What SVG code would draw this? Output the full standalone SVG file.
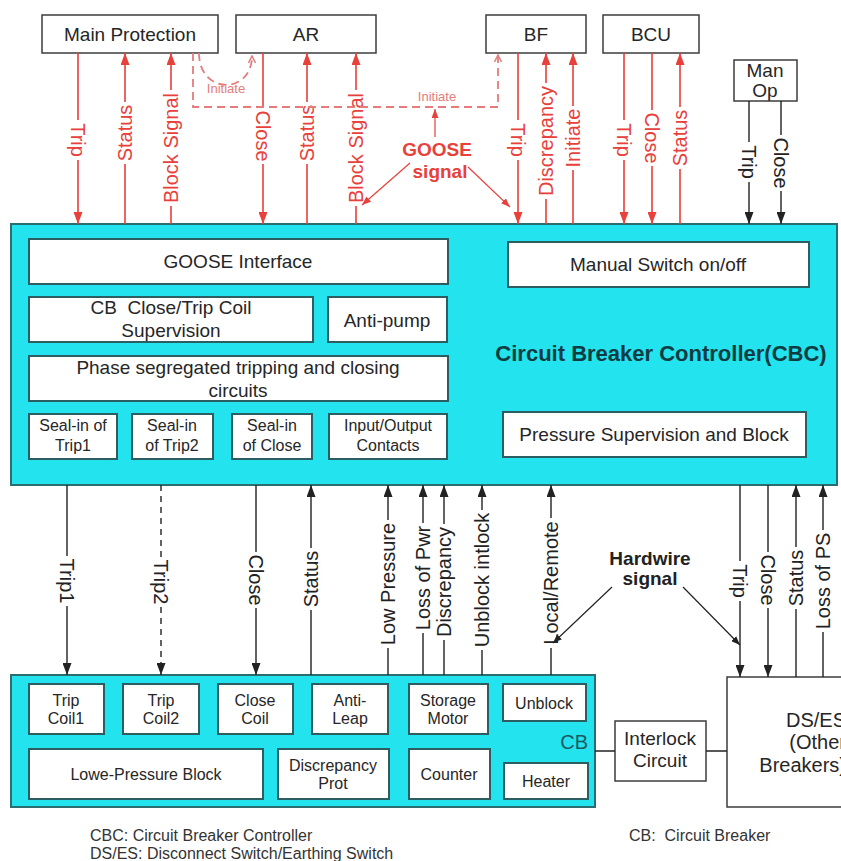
<svg xmlns="http://www.w3.org/2000/svg" width="841" height="861" viewBox="0 0 841 861">
<style>
text{font-family:"Liberation Sans",Arial,sans-serif;fill:#262626}
.c{text-anchor:middle;dominant-baseline:central}
.f19{font-size:19px}
.f16{font-size:16px}
.box{fill:#fff;stroke:#3c3c3c;stroke-width:1.5}
.cbc{fill:#22E3EE;stroke:#2a6e72;stroke-width:2}
.ibox{fill:#fff;stroke:#2b5d61;stroke-width:2}
.red{stroke:#E8403A;stroke-width:1.6;fill:none}
.blk{stroke:#222;stroke-width:1.4;fill:none}
.thr{stroke:#E8403A;stroke-width:1.2;fill:none}
.thb{stroke:#222;stroke-width:1.2;fill:none}
.dash{stroke:#E47C7C;stroke-width:1.8;stroke-dasharray:8 5;fill:none}
.rl{fill:#E8403A;font-size:20px}
.bl{fill:#222;font-size:20px}
.ini{fill:#E47C7C;font-size:13px}
.leg{font-size:16px;fill:#333}
</style>
<defs>
<marker id="ar" viewBox="0 0 12 9" refX="12" refY="4.5" markerWidth="12" markerHeight="9" markerUnits="userSpaceOnUse" orient="auto"><path d="M0,0 L12,4.5 L0,9 z" fill="#E8403A"/></marker>
<marker id="ab" viewBox="0 0 12 9" refX="12" refY="4.5" markerWidth="12" markerHeight="9" markerUnits="userSpaceOnUse" orient="auto"><path d="M0,0 L12,4.5 L0,9 z" fill="#222"/></marker>
<marker id="sr" viewBox="0 0 9 7" refX="9" refY="3.5" markerWidth="9" markerHeight="7" markerUnits="userSpaceOnUse" orient="auto"><path d="M0,0 L9,3.5 L0,7 z" fill="#E8403A"/></marker>
<marker id="sb" viewBox="0 0 9 7" refX="9" refY="3.5" markerWidth="9" markerHeight="7" markerUnits="userSpaceOnUse" orient="auto"><path d="M0,0 L9,3.5 L0,7 z" fill="#222"/></marker>
<marker id="od" viewBox="0 0 9 9" refX="8" refY="4.5" markerWidth="9" markerHeight="9" markerUnits="userSpaceOnUse" orient="auto"><path d="M1,1 L8,4.5 L1,8" fill="none" stroke="#E47C7C" stroke-width="1.5"/></marker>
</defs>
<rect width="841" height="861" fill="#fff"/>

<g id="main-protection"><rect class="box" x="42" y="15" width="176" height="38"/><text class="c f19" x="130" y="34">Main Protection</text></g>
<g id="ar-node"><rect class="box" x="236" y="15" width="140" height="38"/><text class="c f19" x="306" y="34">AR</text></g>
<g id="bf"><rect class="box" x="486" y="15" width="100" height="38"/><text class="c f19" x="536" y="34">BF</text></g>
<g id="bcu"><rect class="box" x="603" y="15" width="96" height="38"/><text class="c f19" x="651" y="34">BCU</text></g>
<g id="man-op"><rect class="box" x="734" y="60" width="63" height="41"/><text class="c f19" x="765" y="70">Man</text><text class="c f19" x="765" y="90">Op</text></g>

<g id="cbc">
<rect class="cbc" x="11" y="224" width="826" height="261"/>
<text class="c" x="661" y="353" style="font-size:22px;font-weight:bold;fill:#0f3c42">Circuit Breaker Controller(CBC)</text>
</g>
<g id="goose-interface"><rect class="ibox" x="29" y="239" width="419" height="45"/><text class="c f19" x="238" y="261">GOOSE Interface</text></g>
<g id="coil-supervision"><rect class="ibox" x="29" y="297" width="284" height="45"/><text class="c f19" x="171" y="307" style="white-space:pre">CB  Close/Trip Coil</text><text class="c f19" x="171" y="330">Supervision</text></g>
<g id="anti-pump"><rect class="ibox" x="328" y="297" width="119" height="45"/><text class="c f19" x="387" y="320">Anti-pump</text></g>
<g id="phase-segregated"><rect class="ibox" x="29" y="356" width="419" height="45"/><text class="c f19" x="238" y="367">Phase segregated tripping and closing</text><text class="c f19" x="238" y="390">circuits</text></g>
<g id="seal-trip1"><rect class="ibox" x="29" y="414" width="88" height="45"/><text class="c f16" x="73" y="425">Seal-in of</text><text class="c f16" x="73" y="445">Trip1</text></g>
<g id="seal-trip2"><rect class="ibox" x="132" y="414" width="81" height="45"/><text class="c f16" x="172" y="425">Seal-in</text><text class="c f16" x="172" y="445">of Trip2</text></g>
<g id="seal-close"><rect class="ibox" x="232" y="414" width="80" height="45"/><text class="c f16" x="272" y="425">Seal-in</text><text class="c f16" x="272" y="445">of Close</text></g>
<g id="io-contacts"><rect class="ibox" x="329" y="414" width="118" height="45"/><text class="c f16" x="388" y="425">Input/Output</text><text class="c f16" x="388" y="445">Contacts</text></g>
<g id="manual-switch"><rect class="ibox" x="508" y="242" width="301" height="45"/><text class="c f19" x="658" y="264">Manual Switch on/off</text></g>
<g id="pressure-supervision"><rect class="ibox" x="503" y="412" width="303" height="45"/><text class="c f19" x="654" y="434">Pressure Supervision and Block</text></g>

<g id="cb">
<rect class="cbc" x="11" y="675" width="584" height="132"/>
<text x="588" y="742" style="font-size:20px;fill:#1c5a62;text-anchor:end;dominant-baseline:central">CB</text>
</g>
<g id="trip-coil1"><rect class="ibox" x="29" y="684" width="75" height="50"/><text class="c f16" x="66" y="700">Trip</text><text class="c f16" x="66" y="718">Coil1</text></g>
<g id="trip-coil2"><rect class="ibox" x="123" y="684" width="76" height="50"/><text class="c f16" x="161" y="700">Trip</text><text class="c f16" x="161" y="718">Coil2</text></g>
<g id="close-coil"><rect class="ibox" x="218" y="684" width="75" height="50"/><text class="c f16" x="255" y="700">Close</text><text class="c f16" x="255" y="718">Coil</text></g>
<g id="anti-leap"><rect class="ibox" x="312" y="684" width="76" height="50"/><text class="c f16" x="350" y="700">Anti-</text><text class="c f16" x="350" y="718">Leap</text></g>
<g id="storage-motor"><rect class="ibox" x="409" y="684" width="79" height="50"/><text class="c f16" x="448" y="700">Storage</text><text class="c f16" x="448" y="718">Motor</text></g>
<g id="unblock"><rect class="ibox" x="503" y="684" width="83" height="37"/><text class="c f16" x="544" y="703">Unblock</text></g>
<g id="lowe-pressure"><rect class="ibox" x="29" y="749" width="234" height="50"/><text class="c f16" x="146" y="774">Lowe-Pressure Block</text></g>
<g id="discrepancy-prot"><rect class="ibox" x="278" y="749" width="111" height="50"/><text class="c f16" x="333" y="765">Discrepancy</text><text class="c f16" x="333" y="783">Prot</text></g>
<g id="counter"><rect class="ibox" x="409" y="749" width="81" height="50"/><text class="c f16" x="449" y="774">Counter</text></g>
<g id="heater"><rect class="ibox" x="504" y="763" width="84" height="36"/><text class="c f16" x="546" y="781">Heater</text></g>

<g id="interlock"><rect class="box" x="615" y="721" width="91" height="60"/><text class="c f19" x="660" y="738">Interlock</text><text class="c f19" x="660" y="760">Circuit</text></g>
<g id="ds-es"><rect class="box" x="727" y="677" width="160" height="130"/>
<text class="f19" x="846" y="720" style="font-size:20px;text-anchor:end;dominant-baseline:central">DS/ES</text>
<text class="f19" x="846" y="742" style="font-size:20px;text-anchor:end;dominant-baseline:central">(Other</text>
<text class="f19" x="846" y="765" style="font-size:20px;text-anchor:end;dominant-baseline:central">Breakers)</text></g>

<g id="connectors">
<!-- top GOOSE connectors -->
<path class="red" d="M78,53 V120 M78,160 V224" marker-end="url(#ar)"/>
<path class="red" d="M125,224 V164 M125,102 V53" marker-end="url(#ar)"/>
<path class="red" d="M171,224 V206 M171,90 V53" marker-end="url(#ar)"/>
<path class="red" d="M263,53 V108 M263,164 V224" marker-end="url(#ar)"/>
<path class="red" d="M307,224 V164 M307,102 V53" marker-end="url(#ar)"/>
<path class="red" d="M356,224 V206 M356,90 V53" marker-end="url(#ar)"/>
<path class="red" d="M518,53 V120 M518,160 V224" marker-end="url(#ar)"/>
<path class="red" d="M546,224 V199 M546,83 V53" marker-end="url(#ar)"/>
<path class="red" d="M573,224 V170 M573,106 V53" marker-end="url(#ar)"/>
<path class="red" d="M624,53 V120 M624,160 V224" marker-end="url(#ar)"/>
<path class="red" d="M652,53 V110 M652,166 V224" marker-end="url(#ar)"/>
<path class="red" d="M680,224 V169 M680,107 V53" marker-end="url(#ar)"/>
<path class="blk" d="M749,101 V142 M749,182 V224" marker-end="url(#ab)"/>
<path class="blk" d="M781,101 V135 M781,191 V224" marker-end="url(#ab)"/>
<text class="rl c" transform="translate(78,140) rotate(90)">Trip</text>
<text class="rl c" transform="translate(125,133) rotate(-90)">Status</text>
<text class="rl c" transform="translate(171,148) rotate(-90)">Block Signal</text>
<text class="rl c" transform="translate(263,136) rotate(90)">Close</text>
<text class="rl c" transform="translate(307,133) rotate(-90)">Status</text>
<text class="rl c" transform="translate(356,148) rotate(-90)">Block Signal</text>
<text class="rl c" transform="translate(518,140) rotate(90)">Trip</text>
<text class="rl c" transform="translate(546,141) rotate(-90)">Discrepancy</text>
<text class="rl c" transform="translate(573,138) rotate(-90)">Initiate</text>
<text class="rl c" transform="translate(624,140) rotate(90)">Trip</text>
<text class="rl c" transform="translate(652,138) rotate(90)">Close</text>
<text class="rl c" transform="translate(680,138) rotate(-90)">Status</text>
<text class="bl c" transform="translate(749,162) rotate(90)">Trip</text>
<text class="bl c" transform="translate(781,163) rotate(90)">Close</text>
<!-- initiate dashed -->
<path class="dash" d="M199,53 C199,95 252,95 252,56" marker-end="url(#od)"/>
<path class="dash" d="M193,53 V107 H498 V55" marker-end="url(#od)"/>
<text class="ini c" x="226" y="88">Initiate</text>
<text class="ini c" x="437" y="96">Initiate</text>
<!-- GOOSE signal callout -->
<text class="c" x="437" y="149" style="font-size:19px;font-weight:bold;fill:#E8403A">GOOSE</text>
<text class="c" x="440" y="171" style="font-size:19px;font-weight:bold;fill:#E8403A">signal</text>
<path class="thr" d="M435,137 V109" marker-end="url(#sr)"/>
<path class="thr" d="M410,163 L362,205" marker-end="url(#sr)"/>
<path class="thr" d="M468,167 L510,207" marker-end="url(#sr)"/>
<!-- bottom hardwire connectors -->
<path class="blk" d="M67,485 V556 M67,606 V675" marker-end="url(#ab)"/>
<path class="blk" d="M161,485 V557 M161,607 V675" style="stroke-dasharray:6 5" marker-end="url(#ab)"/>
<path class="blk" d="M256,485 V552 M256,608 V675" marker-end="url(#ab)"/>
<path class="blk" d="M311,675 V610 M311,548 V485" marker-end="url(#ab)"/>
<path class="blk" d="M388,675 V648 M388,520 V485" marker-end="url(#ab)"/>
<path class="blk" d="M423,675 V633 M423,523 V485" marker-end="url(#ab)"/>
<path class="blk" d="M444,675 V640 M444,524 V485" marker-end="url(#ab)"/>
<path class="blk" d="M482,675 V650 M482,510 V485" marker-end="url(#ab)"/>
<path class="blk" d="M551,675 V648 M551,518 V485" marker-end="url(#ab)"/>
<path class="blk" d="M740,485 V561 M740,601 V677" marker-end="url(#ab)"/>
<path class="blk" d="M768,485 V552 M768,608 V677" marker-end="url(#ab)"/>
<path class="blk" d="M796,677 V609 M796,547 V485" marker-end="url(#ab)"/>
<path class="blk" d="M823,677 V632 M823,530 V485" marker-end="url(#ab)"/>
<text class="bl c" transform="translate(67,581) rotate(90)">Trip1</text>
<text class="bl c" transform="translate(161,582) rotate(90)">Trip2</text>
<text class="bl c" transform="translate(256,580) rotate(90)">Close</text>
<text class="bl c" transform="translate(311,579) rotate(-90)">Status</text>
<text class="bl c" transform="translate(388,584) rotate(-90)">Low Pressure</text>
<text class="bl c" transform="translate(423,578) rotate(-90)">Loss of Pwr</text>
<text class="bl c" transform="translate(444,582) rotate(-90)">Discrepancy</text>
<text class="bl c" transform="translate(482,580) rotate(-90)">Unblock intlock</text>
<text class="bl c" transform="translate(551,583) rotate(-90)">Local/Remote</text>
<text class="bl c" transform="translate(740,581) rotate(90)">Trip</text>
<text class="bl c" transform="translate(768,580) rotate(90)">Close</text>
<text class="bl c" transform="translate(796,578) rotate(-90)">Status</text>
<text class="bl c" transform="translate(823,581) rotate(-90)">Loss of PS</text>
<!-- Hardwire signal callout -->
<text class="c" x="650" y="558" style="font-size:19px;font-weight:bold;fill:#222">Hardwire</text>
<text class="c" x="650" y="578" style="font-size:19px;font-weight:bold;fill:#222">signal</text>
<path class="thb" d="M612,587 L553,643" marker-end="url(#sb)"/>
<path class="thb" d="M683,587 L740,645" marker-end="url(#sb)"/>
<!-- interlock links -->
<path class="blk" d="M595,751 H615 M706,751 H727"/>
</g>

<g id="legend">
<text class="leg" x="90" y="841">CBC: Circuit Breaker Controller</text>
<text class="leg" x="90" y="859">DS/ES: Disconnect Switch/Earthing Switch</text>
<text class="leg" x="629" y="841" style="white-space:pre">CB:  Circuit Breaker</text>
</g>
</svg>
